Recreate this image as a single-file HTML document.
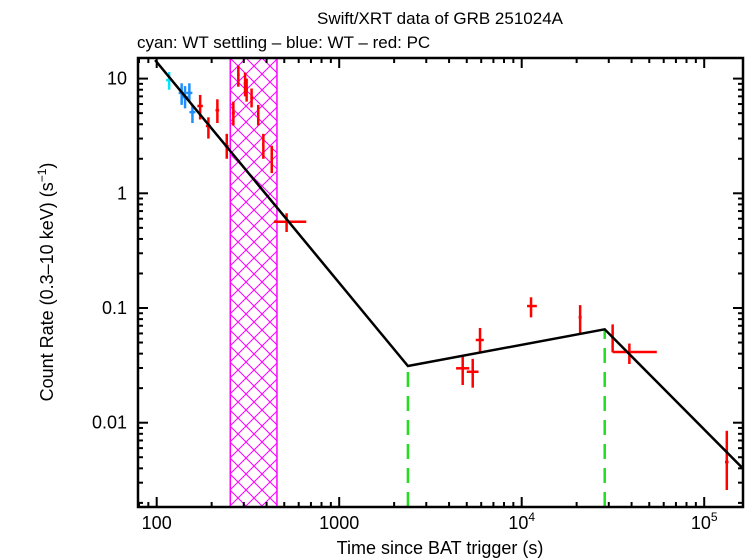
<!DOCTYPE html>
<html><head><meta charset="utf-8"><style>
html,body{margin:0;padding:0;background:#fff;}
svg{display:block;font-family:"Liberation Sans",sans-serif;}
</style></head><body>
<svg id="chart" width="746" height="558">
<defs>
<pattern id="hatch" width="16" height="16" patternUnits="userSpaceOnUse" x="230" y="58">
<path d="M0,0 L16,16 M16,0 L0,16" stroke="#ff00ff" stroke-width="1" fill="none"/>
</pattern>
<clipPath id="plotclip"><rect x="138" y="58" width="605" height="449"/></clipPath>
</defs>
<text x="440" y="24" font-size="17" text-anchor="middle">Swift/XRT data of GRB 251024A</text>
<text x="137" y="48" font-size="17">cyan: WT settling – blue: WT – red: PC</text>
<g id="plot"></g>
<text x="440" y="554" font-size="18" text-anchor="middle">Time since BAT trigger (s)</text>
<text transform="translate(53,282) rotate(-90)" font-size="18" text-anchor="middle">Count Rate (0.3–10 keV) (s<tspan font-size="12" dy="-7">−1</tspan><tspan dy="7">)</tspan></text>
</svg>
<script>
// data arrays
const cyanT=[117], cyanR=[9.7], cyanLo=[8.0], cyanHi=[11.4];
const blueT=[137,143,151,157], blueR=[7.5,6.9,7.5,5.1], blueLo=[5.9,5.5,6.4,4.1], blueHi=[9.1,8.6,9.1,5.9];
const redT=[173,192,215,242,263,280,305,311,331,360,384,427,515,4750,5390,5910,11250,20900,31500,38900,133000];
const redR=[5.77,3.86,5.3,2.58,5.0,10.8,9.1,7.95,6.8,4.8,2.64,2.0,0.565,0.0298,0.0278,0.0526,0.104,0.083,0.0547,0.0413,0.00454];
const redLo=[4.4,3.0,4.1,2.0,3.9,8.5,7.0,6.3,5.6,3.9,2.0,1.5,0.46,0.0213,0.0202,0.0416,0.0828,0.06,0.0411,0.0325,0.00259];
const redHi=[7.2,4.6,6.6,3.3,6.3,13.0,11.3,10.0,8.2,5.9,3.3,2.6,0.67,0.0376,0.036,0.067,0.124,0.106,0.072,0.049,0.0085];
const redTlo=[167,186,210,236,258,276,300,306,326,355,379,420,439,4370,5000,5600,10700,20500,31000,31500,130000];
const redThi=[179,198,220,248,268,285,310,316,336,365,389,434,660,5160,5800,6200,12100,21300,32000,55000,136000];
const modelT=[98,2380,28500,162000];
const modelR=[14.5,0.0312,0.0652,0.00403];
const breakT=[2380,28500];
const bandT=[253,456];
const xTickVals=[100,1000,10000,100000];
const xTickLabels=["100","1000","10^4","10^5"];
const yTickVals=[10,1,0.1,0.01];
const yTickLabels=["10","1","0.1","0.01"];

const L=138,T=58,R=743,B=507;
const X=t=>156.7+182.5*Math.log10(t/100);
const Y=v=>193.3-114.7*Math.log10(v);
const NS="http://www.w3.org/2000/svg";
const g=document.getElementById('plot');
function mk(tag,attrs,parent){const e=document.createElementNS(NS,tag);for(const k in attrs)e.setAttribute(k,attrs[k]);(parent||g).appendChild(e);return e;}

// band
const band=mk('rect',{x:X(bandT[0]),y:T,width:X(bandT[1])-X(bandT[0]),height:B-T,fill:'url(#hatch)',stroke:'#ff00ff','stroke-width':1.5});



const cg=mk('g',{'clip-path':'url(#plotclip)'});
// break lines
breakT.forEach((bt,i)=>{
  const k=modelT.indexOf(bt);
  const l=mk('line',{x1:X(bt),x2:X(bt),y1:B,y2:Y(modelR[k]),stroke:'#22dd22','stroke-width':2.5,'stroke-dasharray':'15,9'},cg);
  
  
});
// error bars
function series(ts,rs,lo,hi,tlo,thi,col,name){
  ts.forEach((t,i)=>{
    const eg=mk('g',{},cg);
    
    
    mk('line',{x1:X(t),x2:X(t),y1:Y(lo[i]),y2:Y(hi[i]),stroke:col,'stroke-width':2.5},eg);
    const a=tlo?X(tlo[i]):X(t)-3, b=thi?X(thi[i]):X(t)+3;
    mk('line',{x1:a,x2:b,y1:Y(rs[i]),y2:Y(rs[i]),stroke:col,'stroke-width':2.5},eg);
  });
}
series(cyanT,cyanR,cyanLo,cyanHi,null,null,'#00e5ff','wt-settling');
series(blueT,blueR,blueLo,blueHi,null,null,'#1e8fff','wt');
series(redT,redR,redLo,redHi,redTlo,redThi,'#ff0000','pc');
// model
const pl=mk('polyline',{points:modelT.map((t,i)=>X(t)+','+Y(modelR[i])).join(' '),fill:'none',stroke:'#000','stroke-width':2.5},cg);



// frame
const fr=mk('rect',{x:L,y:T,width:R-L,height:B-T,fill:'none',stroke:'#000','stroke-width':2.5});


// ticks
for(let d=10;d<=1e6;d*=10){for(let m=1;m<10;m++){const t=d*m,x=X(t);if(x<L+1||x>R-1)continue;const len=m==1?10:5;
  mk('line',{x1:x,x2:x,y1:B,y2:B-len,stroke:'#000','stroke-width':2});
  mk('line',{x1:x,x2:x,y1:T,y2:T+len,stroke:'#000','stroke-width':2});}}
for(let d=0.001;d<=100;d*=10){for(let m=1;m<10;m++){const v=d*m,y=Y(v);if(y<T+1||y>B-1)continue;const len=m==1?10:5;
  mk('line',{x1:L,x2:L+len,y1:y,y2:y,stroke:'#000','stroke-width':2});
  mk('line',{x1:R,x2:R-len,y1:y,y2:y,stroke:'#000','stroke-width':2});}}
xTickVals.forEach((v,i)=>{
  const s=xTickLabels[i];const tx=mk('text',{x:X(v),y:529,'font-size':18,'text-anchor':'middle'});
  if(s.startsWith('10^')){tx.textContent='10';const sp=mk('tspan',{'font-size':12,dy:-8},tx);sp.textContent=s.slice(3);}
  else tx.textContent=s;
  
  
});
yTickVals.forEach((v,i)=>{
  const tx=mk('text',{x:127,y:Y(v)+6,'font-size':18,'text-anchor':'end'});
  tx.textContent=yTickLabels[i];
  
  
});
</script>
</body></html>
